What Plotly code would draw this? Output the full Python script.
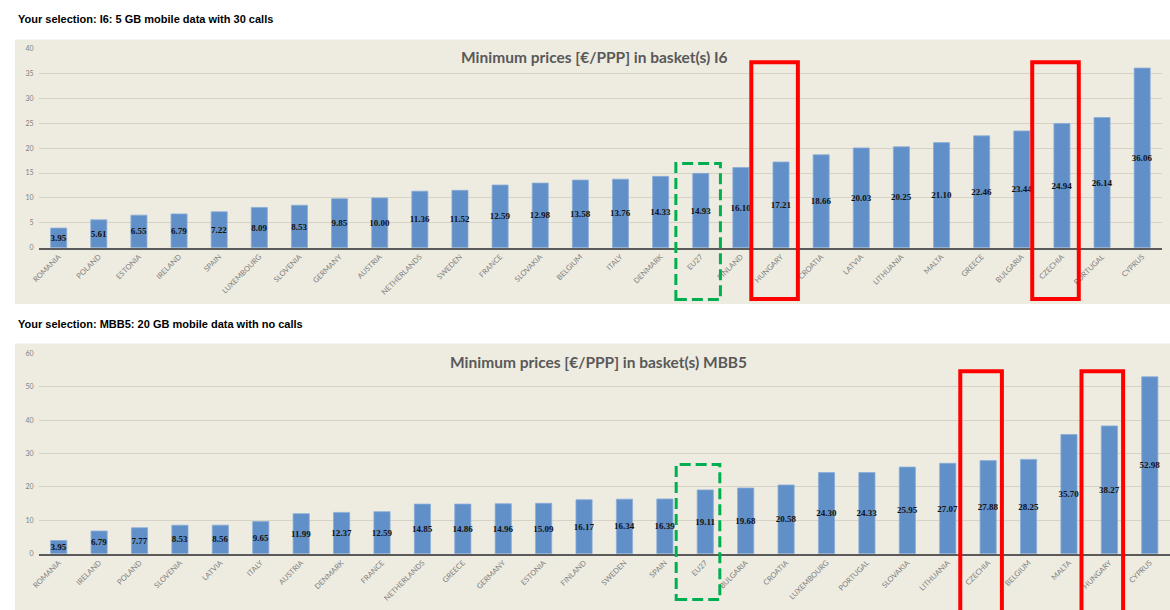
import plotly.graph_objects as go

# ---------------- data ----------------
i6_countries = ["ROMANIA", "POLAND", "ESTONIA", "IRELAND", "SPAIN", "LUXEMBOURG", "SLOVENIA",
                "GERMANY", "AUSTRIA", "NETHERLANDS", "SWEDEN", "FRANCE", "SLOVAKIA", "BELGIUM",
                "ITALY", "DENMARK", "EU27", "FINLAND", "HUNGARY", "CROATIA", "LATVIA",
                "LITHUANIA", "MALTA", "GREECE", "BULGARIA", "CZECHIA", "PORTUGAL", "CYPRUS"]
i6_prices = [3.95, 5.61, 6.55, 6.79, 7.22, 8.09, 8.53, 9.85, 10.00, 11.36, 11.52, 12.59, 12.98,
             13.58, 13.76, 14.33, 14.93, 16.10, 17.21, 18.66, 20.03, 20.25, 21.10, 22.46, 23.44,
             24.94, 26.14, 36.06]

mbb5_countries = ["ROMANIA", "IRELAND", "POLAND", "SLOVENIA", "LATVIA", "ITALY", "AUSTRIA",
                  "DENMARK", "FRANCE", "NETHERLANDS", "GREECE", "GERMANY", "ESTONIA", "FINLAND",
                  "SWEDEN", "SPAIN", "EU27", "BULGARIA", "CROATIA", "LUXEMBOURG", "PORTUGAL",
                  "SLOVAKIA", "LITHUANIA", "CZECHIA", "BELGIUM", "MALTA", "HUNGARY", "CYPRUS"]
mbb5_prices = [3.95, 6.79, 7.77, 8.53, 8.56, 9.65, 11.99, 12.37, 12.59, 14.85, 14.86, 14.96,
               15.09, 16.17, 16.34, 16.39, 19.11, 19.68, 20.58, 24.30, 24.33, 25.95, 27.07,
               27.88, 28.25, 35.70, 38.27, 52.98]

header_top = "Your selection: I6: 5 GB mobile data with 30 calls"
header_bottom = "Your selection: MBB5: 20 GB mobile data with no calls"
title_top = "Minimum prices [€/PPP] in basket(s) I6"
title_bottom = "Minimum prices [€/PPP] in basket(s) MBB5"

red_top = ["HUNGARY", "CZECHIA"]
red_bottom = ["CZECHIA", "HUNGARY"]
green_cat = "EU27"

# ---------------- layout helpers ----------------
W, H = 1170, 610


def px(x):
    return min(1.0, max(0.0, x / W))


def py(y):
    return (H - y) / H


BAR = "#6190C8"
BAR_EDGE = "#8AACD8"
PANEL = "#EEECE1"
GRID = "#D6D3C6"
AXIS = "#5A5A5A"
TICK = "#808080"

fig = go.Figure()

for xa, ya, cats, vals in [("x", "y", i6_countries, i6_prices),
                           ("x2", "y2", mbb5_countries, mbb5_prices)]:
    fig.add_trace(go.Bar(
        x=cats, y=vals, xaxis=xa, yaxis=ya,
        marker=dict(color=BAR, line=dict(color=BAR_EDGE, width=0.8)),
        width=0.4,
        texttemplate="<b>%{y:.2f}</b>",
        textposition="inside",
        insidetextanchor="middle",
        textangle=0,
        constraintext="none",
        cliponaxis=False,
        textfont=dict(family="Liberation Serif", size=9, color="#111111"),
        hoverinfo="x+y",
        showlegend=False,
    ))

common_x = dict(type="category", tickangle=-45, showgrid=False, ticks="",
                tickfont=dict(family="Lato", size=7.5, color=TICK),
                showline=True, linecolor=AXIS, linewidth=1.5, zeroline=False,
                range=[-0.5, 27.5], fixedrange=True)
common_y = dict(showgrid=True, gridcolor=GRID, gridwidth=1, zeroline=False, showline=False,
                ticks="", tickfont=dict(family="Lato", size=7, color=TICK),
                ticklabelstandoff=4, fixedrange=True)

fig.update_layout(
    width=W, height=H,
    margin=dict(l=0, r=0, t=0, b=0),
    paper_bgcolor="white",
    plot_bgcolor="rgba(0,0,0,0)",
    bargap=0.6,
    xaxis=dict(domain=[px(31.8), px(1162.2)], anchor="y", **common_x),
    yaxis=dict(domain=[py(246), py(44)], anchor="x", range=[0, 40], dtick=5, **common_y),
    xaxis2=dict(domain=[px(31.7), 1.0], anchor="y2", **common_x),
    yaxis2=dict(domain=[py(556), py(353)], anchor="x2", range=[0, 60], dtick=10, **common_y),
)

shapes = [
    # panel backgrounds
    dict(type="rect", xref="paper", yref="paper", x0=px(8), x1=1.0, y0=py(303), y1=py(35),
         fillcolor=PANEL, line=dict(width=0), layer="below"),
    dict(type="rect", xref="paper", yref="paper", x0=px(8), x1=1.0, y0=-0.01, y1=py(343),
         fillcolor=PANEL, line=dict(width=0), layer="below"),
]

# highlight boxes (positioned relative to the category index)
for c in red_top:
    i = i6_countries.index(c)
    shapes.append(dict(type="rect", xref="x", yref="paper", x0=i - 0.74, x1=i + 0.42,
                       y0=py(298), y1=py(58), line=dict(color="#FF0000", width=4),
                       fillcolor="rgba(0,0,0,0)", layer="above"))
i = i6_countries.index(green_cat)
shapes.append(dict(type="rect", xref="x", yref="paper", x0=i - 0.62, x1=i + 0.49,
                   y0=py(298.5), y1=py(160.5),
                   line=dict(color="#00B050", width=3, dash="11px,5px"),
                   fillcolor="rgba(0,0,0,0)", layer="above"))
for c in red_bottom:
    i = mbb5_countries.index(c)
    shapes.append(dict(type="rect", xref="x2", yref="paper", x0=i - 0.69, x1=i + 0.34,
                       y0=-0.05, y1=py(371), line=dict(color="#FF0000", width=4),
                       fillcolor="rgba(0,0,0,0)", layer="above"))
i = mbb5_countries.index(green_cat)
shapes.append(dict(type="rect", xref="x2", yref="paper", x0=i - 0.72, x1=i + 0.36,
                   y0=py(602.5), y1=py(465.5),
                   line=dict(color="#00B050", width=3, dash="11px,5px"),
                   fillcolor="rgba(0,0,0,0)", layer="above"))

fig.update_layout(shapes=shapes)

annotations = [
    dict(text=header_top, x=px(9), y=py(14), xref="paper", yref="paper",
         xanchor="left", yanchor="middle", showarrow=False,
         font=dict(family="Liberation Sans", size=11, color="#000000")),
    dict(text=header_bottom, x=px(9), y=py(323), xref="paper", yref="paper",
         xanchor="left", yanchor="middle", showarrow=False,
         font=dict(family="Liberation Sans", size=11, color="#000000")),
    dict(text=title_top, x=px(591), y=py(53), xref="paper", yref="paper",
         xanchor="center", yanchor="middle", showarrow=False,
         font=dict(family="Lato", size=15.5, color="#595959")),
    dict(text=title_bottom, x=px(595), y=py(362), xref="paper", yref="paper",
         xanchor="center", yanchor="middle", showarrow=False,
         font=dict(family="Lato", size=15.5, color="#595959")),
]
for a in annotations:
    a["text"] = "<b>" + a["text"] + "</b>"
fig.update_layout(annotations=annotations)

# remove the default page margin so the figure starts at the window corner
fig.write_html("out.html", post_script="document.body.style.margin='0';",
               config={"displayModeBar": False})
